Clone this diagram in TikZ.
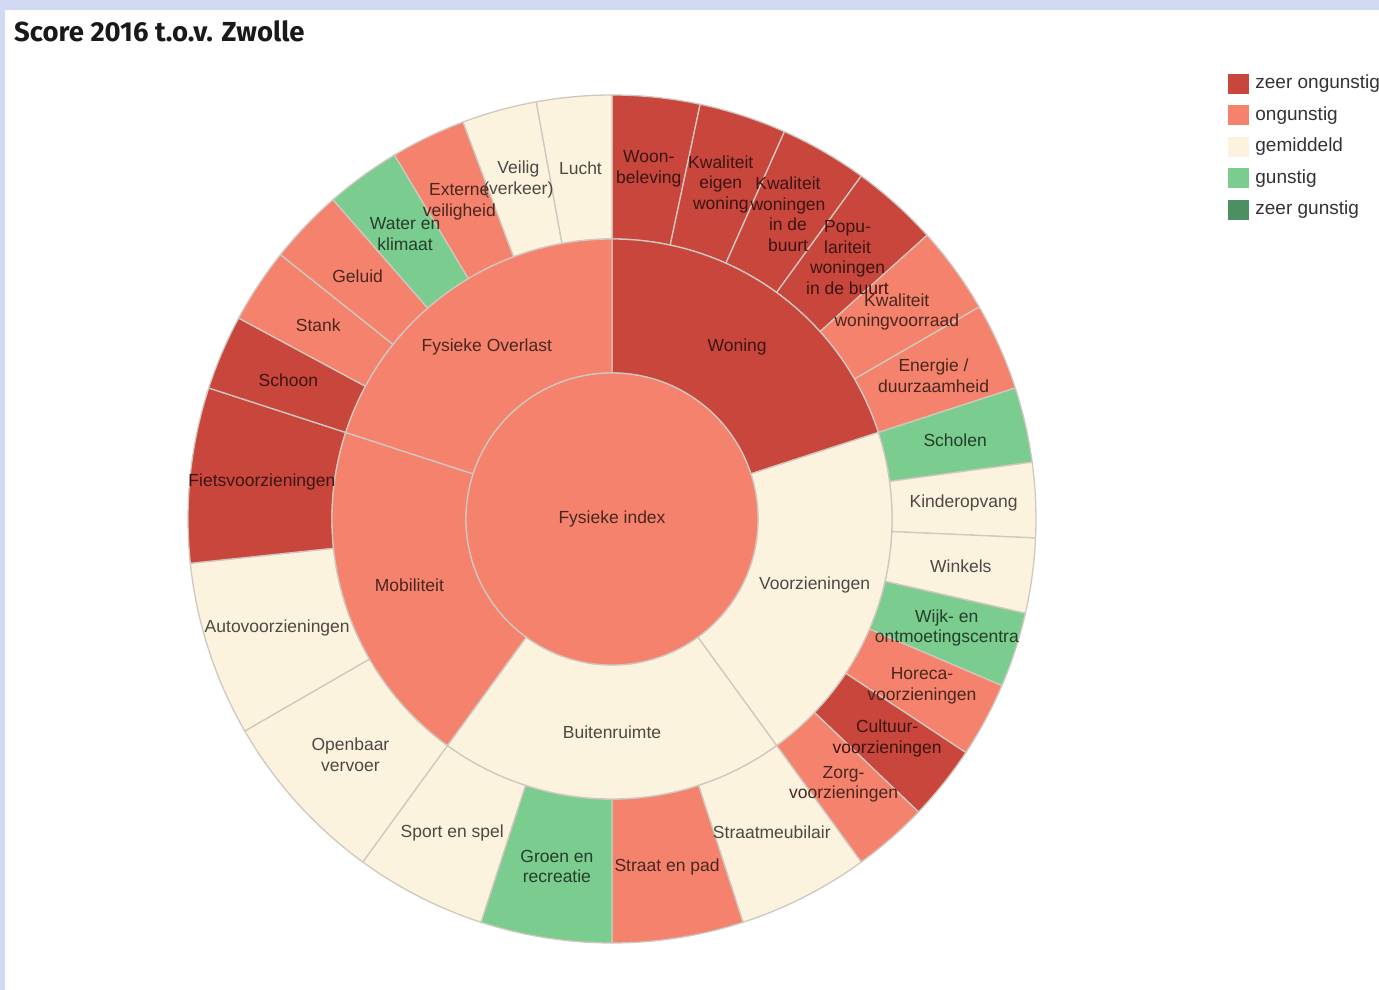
\documentclass[tikz,border=0pt]{standalone}
\usepackage{fontspec}
\setmainfont{Liberation Sans}
\newfontfamily\titlefont{Fira Sans}
\usetikzlibrary{positioning}

\definecolor{zeerongunstig}{RGB}{201,70,60}
\definecolor{ongunstig}{RGB}{245,130,108}
\definecolor{gemiddeld}{RGB}{252,243,222}
\definecolor{gunstig}{RGB}{122,205,142}
\definecolor{zeergunstig}{RGB}{78,142,99}
\definecolor{rand}{RGB}{209,218,242}
\definecolor{scheiding}{RGB}{208,200,192}

\tikzset{
  wedge/.style={draw=scheiding, line width=1.3pt, line join=round},
  lbl/.style={align=center, inner sep=0pt, font=\fontsize{17.5}{20.5}\selectfont},
  legendbox/.style={minimum width=21pt, minimum height=20pt, inner sep=0pt},
}

% buitenste ring: begin/eind/kleur/tekst
\def\buitenring{90/78/zeerongunstig/{Woon-\\beleving},
  78/66/zeerongunstig/{Kwaliteit\\eigen\\woning},
  66/54/zeerongunstig/{Kwaliteit\\woningen\\in de\\buurt},
  54/42/zeerongunstig/{Popu-\\lariteit\\woningen\\in de buurt},
  42/30/ongunstig/{Kwaliteit\\woningvoorraad},
  30/18/ongunstig/{Energie /\\duurzaamheid},
  18/7.71/gunstig/Scholen,
  7.71/-2.57/gemiddeld/Kinderopvang,
  -2.57/-12.86/gemiddeld/Winkels,
  -12.86/-23.14/gunstig/{Wijk- en\\ontmoetingscentra},
  -23.14/-33.43/ongunstig/{Horeca-\\voorzieningen},
  -33.43/-43.71/zeerongunstig/{Cultuur-\\voorzieningen},
  -43.71/-54/ongunstig/{Zorg-\\voorzieningen},
  -54/-72/gemiddeld/Straatmeubilair,
  -72/-90/ongunstig/Straat en pad,
  -90/-108/gunstig/{Groen en\\recreatie},
  -108/-126/gemiddeld/Sport en spel,
  -126/-150/gemiddeld/{Openbaar\\vervoer},
  -150/-174/gemiddeld/Autovoorzieningen,
  -174/-198/zeerongunstig/Fietsvoorzieningen,
  162/151.71/zeerongunstig/Schoon,
  151.71/141.43/ongunstig/Stank,
  141.43/131.14/ongunstig/Geluid,
  131.14/120.86/gunstig/{Water en\\klimaat},
  120.86/110.57/ongunstig/{Externe\\veiligheid},
  110.57/100.29/gemiddeld/{Veilig\\(verkeer)},
  100.29/90/gemiddeld/Lucht}
\def\middenring{90/18/zeerongunstig/Woning,
  18/-54/gemiddeld/Voorzieningen,
  -54/-126/gemiddeld/Buitenruimte,
  -126/-198/ongunstig/Mobiliteit,
  162/90/ongunstig/Fysieke Overlast}

\begin{document}
\begin{tikzpicture}[x=1pt, y=1pt]
	\useasboundingbox (0,0) rectangle (1379,990);
	\fill[white] (0,0) rectangle (1379,990);
	\fill[rand] (0,980) rectangle (1379,990);
	\fill[rand] (0,0) rectangle (5,990);
	\node[anchor=base west, inner sep=0pt, text=black!90, font=\titlefont\bfseries\fontsize{27.5}{32}\selectfont] (titel) at (14,948) {Score 2016 t.o.v. Zwolle};

	\begin{scope}[shift={(612,471)}]
	\foreach \a/\b/\c/\t in \buitenring
	  \filldraw[wedge, fill=\c] (\a:280pt) arc[start angle=\a, end angle=\b, radius=280pt] -- (\b:424pt) arc[start angle=\b, end angle=\a, radius=424pt] -- cycle;
	\foreach \a/\b/\c/\t in \middenring
	  \filldraw[wedge, fill=\c] (\a:146pt) arc[start angle=\a, end angle=\b, radius=146pt] -- (\b:280pt) arc[start angle=\b, end angle=\a, radius=280pt] -- cycle;
	\filldraw[wedge, fill=ongunstig] (0,0) circle[radius=146pt];
	\foreach \a/\b/\c/\t [count=\i] in \buitenring
	  \node[lbl, text=\c!30!black] (buiten\i) at ({(\a+\b)/2}:352pt) {\t};
	\foreach \a/\b/\c/\t [count=\i] in \middenring
	  \node[lbl, text=\c!30!black] (midden\i) at ({(\a+\b)/2}:213pt) {\t};
	\node[lbl, text=ongunstig!30!black] (index) at (0,0) {Fysieke index};
	\end{scope}

	\foreach \c/\t [count=\i] in {zeerongunstig/zeer ongunstig, ongunstig/ongunstig, gemiddeld/gemiddeld, gunstig/gunstig, zeergunstig/zeer gunstig} {
	  \node[legendbox, fill=\c] (leg\i) at (1238.5,{906-31.5*(\i-1)}) {};
	  \node[right=6pt of leg\i, inner sep=0pt, text=black!80, font=\fontsize{19}{22}\selectfont] (legtekst\i) {\t};
	}
\end{tikzpicture}
\end{document}
